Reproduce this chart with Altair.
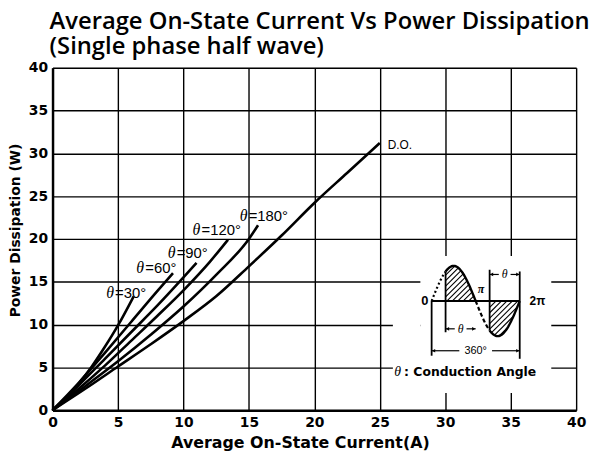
import altair as alt
import numpy as np
import pandas as pd

# ---------------- data ----------------
series_names = ["θ=30°", "θ=60°", "θ=90°", "θ=120°", "θ=180°", "D.O."]
x30 = [0, 1, 2, 3, 4, 5, 6.2]
y30 = [0, 1.4, 3.1, 5.1, 7.4, 9.9, 13.3]
x60 = [0, 2, 4, 6, 8, 9.2]
y60 = [0, 3.2, 6.7, 10.3, 13.9, 16.0]
x90 = [0, 2, 4, 6, 8, 10, 11.0]
y90 = [0, 2.9, 6.0, 9.1, 12.2, 15.5, 17.2]
x120 = [0, 2, 4, 6, 8, 10, 12, 13.4]
y120 = [0, 2.5, 5.2, 8.1, 11.0, 14.0, 17.3, 19.9]
x180 = [0, 2.5, 5, 7.5, 10, 12.5, 15, 15.7]
y180 = [0, 2.8, 5.7, 8.8, 12.1, 15.8, 20.0, 21.6]
xdo = [0, 2.5, 5, 7.5, 10, 12.5, 15, 17.5, 20, 22.5, 25]
ydo = [0, 2.5, 5.1, 7.7, 10.4, 13.3, 16.8, 20.4, 24.2, 27.7, 31.2]

label_theta = ["θ", "θ", "θ", "θ", "θ", ""]
label_rest = ["=30°", "=60°", "=90°", "=120°", "=180°", "D.O."]
label_x = [4.1, 6.4, 8.8, 10.7, 14.3, 25.6]
label_y = [13.7, 16.6, 18.4, 21.0, 22.7, 31.0]

tick_values = [0, 5, 10, 15, 20, 25, 30, 35, 40]

# white patches behind the inset diagram (grid is interrupted there)
cover_x1 = [28.1, 26.0]
cover_x2 = [38.1, 28.1]
cover_y1 = [2.0, 2.0]
cover_y2 = [18.0, 11.0]

# inset (schematic) key positions, in chart units
ins_x0, ins_x2, ins_y0, ins_amp = 28.96, 35.69, 12.75, 4.1
ins_alpha_deg = 57
PX_PER_X, PX_PER_Y = 13.225, 8.65

# ---------------- build tables ----------------
xs_all = [x30, x60, x90, x120, x180, xdo]
ys_all = [y30, y60, y90, y120, y180, ydo]
rows = []
for name, xx, yy in zip(series_names, xs_all, ys_all):
    for i, (a, b) in enumerate(zip(xx, yy)):
        rows.append({"series": name, "x": a, "y": b, "i": i})
curves = pd.DataFrame(rows)

labels = pd.DataFrame({"t": label_theta, "r": label_rest, "x": label_x, "y": label_y})
covers = pd.DataFrame({"x": cover_x1, "x2": cover_x2, "y": cover_y1, "y2": cover_y2})

alpha = np.deg2rad(ins_alpha_deg)
W = ins_x2 - ins_x0


def sine_pts(t0, t1, n=40):
    t = np.linspace(t0, t1, n)
    return ins_x0 + t / (2 * np.pi) * W, ins_y0 + ins_amp * np.sin(t)


wave_rows = []
for key, (t0, t1), style in [
    ("a", (0, alpha), "dot"),
    ("b", (alpha, np.pi), "solid"),
    ("c", (np.pi, np.pi + alpha), "dash"),
    ("d", (np.pi + alpha, 2 * np.pi), "solid"),
]:
    xx, yy = sine_pts(t0, t1)
    for j, (a, b) in enumerate(zip(xx, yy)):
        wave_rows.append({"seg": key, "style": style, "x": a, "y": b, "i": j})
wave = pd.DataFrame(wave_rows)

# hatch lines (45 deg on screen) inside the conducting lobes
Wpx = W * PX_PER_X
Apx = ins_amp * PX_PER_Y
hatch = []
u = np.linspace(0, Wpx, 2000)
t = u / Wpx * 2 * np.pi
s = Apx * np.sin(t)
for c in np.arange(-120, 120, 5.5):
    v = u + c
    pos = (t >= alpha) & (t <= np.pi) & (v >= 0) & (v <= s)
    neg = (t >= np.pi + alpha) & (t <= 2 * np.pi) & (v <= 0) & (v >= s)
    for m in (pos, neg):
        if m.sum() > 1:
            ui = u[m]
            vi = v[m]
            hatch.append({
                "x": ins_x0 + ui[0] / PX_PER_X, "x2": ins_x0 + ui[-1] / PX_PER_X,
                "y": ins_y0 + vi[0] / PX_PER_Y, "y2": ins_y0 + vi[-1] / PX_PER_Y,
            })
hatch = pd.DataFrame(hatch)

xa = ins_x0 + alpha / (2 * np.pi) * W
xpi = ins_x0 + W / 2
xpa = ins_x0 + (np.pi + alpha) / (2 * np.pi) * W
y_lo_dim, y_up_dim, y_360 = 9.5, 15.85, 6.94
m_lo = (xa + xpi) / 2
m_up = (xpa + ins_x2) / 2
m_360 = (ins_x0 + ins_x2) / 2
thick = pd.DataFrame({
    "x": [ins_x0, ins_x0, ins_x2, xa, xpa],
    "x2": [ins_x2, ins_x0, ins_x2, xa, xpa],
    "y": [ins_y0, ins_y0, 16.2, 16.2, 16.4],
    "y2": [ins_y0, 6.36, 6.0, 9.1, 9.3],
})
dims = pd.DataFrame({
    "x": [xa, m_lo + 0.45, xpa, m_up + 0.45, ins_x0, m_360 + 1.25],
    "x2": [m_lo - 0.45, xpi, m_up - 0.45, ins_x2, m_360 - 1.25, ins_x2],
    "y": [y_lo_dim, y_lo_dim, y_up_dim, y_up_dim, y_360, y_360],
    "y2": [y_lo_dim, y_lo_dim, y_up_dim, y_up_dim, y_360, y_360],
})
# small arrow heads at the ends of the dimension lines
arrows = pd.DataFrame({
    "x": [xa + 0.15, xpi - 0.15, xpa + 0.15, ins_x2 - 0.15, ins_x0 + 0.15, ins_x2 - 0.15],
    "y": [y_lo_dim, y_lo_dim, y_up_dim, y_up_dim, y_360, y_360],
    "shape": ["triangle-left", "triangle-right", "triangle-left", "triangle-right",
              "triangle-left", "triangle-right"],
})
ins_text = pd.DataFrame({
    "x": [ins_x0 - 0.25, m_lo, m_up, m_360, ins_x2 + 0.75],
    "y": [ins_y0, y_lo_dim, y_up_dim, y_360, ins_y0],
    "t": ["0", "θ", "θ", "360°", "2π"],
})

# ---------------- encodings ----------------
FONT = "Liberation Sans"
BFONT = "DejaVu Sans"
xs = alt.Scale(domain=[0, 40], nice=False, zero=False)
ys = alt.Scale(domain=[0, 40], nice=False, zero=False)
xaxis = alt.Axis(values=tick_values, title="Average On-State Current(A)", grid=True, ticks=False,
                 labelFlush=False, labelOverlap=False, labelFont=BFONT, labelFontSize=14,
                 labelFontWeight="bold", labelColor="black", labelPadding=6,
                 titleFont=BFONT, titleFontSize=16, titleFontWeight="bold", titleColor="black",
                 titlePadding=5, titleX=250, domainColor="black", domainWidth=2.5,
                 gridColor="black", gridWidth=1.4, gridOpacity=1)
yaxis = alt.Axis(values=tick_values, title="Power Dissipation (W)", grid=True, ticks=False,
                 labelFlush=False, labelOverlap=False, labelFont=BFONT, labelFontSize=14,
                 labelFontWeight="bold", labelColor="black", labelPadding=5,
                 titleFont=BFONT, titleFontSize=14, titleFontWeight="bold", titleColor="black",
                 titleX=-30, titleY=164, domainColor="black", domainWidth=2.5,
                 gridColor="black", gridWidth=1.4, gridOpacity=1)


def X(f="x"):
    return alt.X(f"{f}:Q", scale=xs, axis=xaxis)


def Y(f="y"):
    return alt.Y(f"{f}:Q", scale=ys, axis=yaxis)


cover = alt.Chart(covers).mark_rect(color="white", strokeWidth=0).encode(
    x=X(), x2="x2:Q", y=Y(), y2="y2:Q")

lines = alt.Chart(curves).mark_line(color="black", strokeWidth=2.6, interpolate="monotone").encode(
    x=X(), y=Y(), detail="series:N", order="i:Q")

lab_t = alt.Chart(labels[labels["t"] != ""]).mark_text(
    align="left", baseline="middle", font="Liberation Serif", fontStyle="italic", fontSize=16,
    color="black").encode(x=X(), y=Y(), text="t:N")
lab_r_theta = alt.Chart(labels[labels["t"] != ""]).mark_text(
    align="left", baseline="middle", font=FONT, fontSize=15, color="black", dx=9).encode(
    x=X(), y=Y(), text="r:N")
lab_do = alt.Chart(labels[labels["t"] == ""]).mark_text(
    align="left", baseline="middle", font=FONT, fontSize=12, color="black").encode(
    x=X(), y=Y(), text="r:N")

wave_solid = alt.Chart(wave[wave["style"] == "solid"]).mark_line(color="black", strokeWidth=2.4).encode(
    x=X(), y=Y(), detail="seg:N", order="i:Q")
wave_dot = alt.Chart(wave[wave["style"] == "dot"]).mark_line(color="black", strokeWidth=2.2,
                                                            strokeDash=[2, 2.5]).encode(
    x=X(), y=Y(), detail="seg:N", order="i:Q")
wave_dash = alt.Chart(wave[wave["style"] == "dash"]).mark_line(color="black", strokeWidth=2.2,
                                                              strokeDash=[4, 2.5]).encode(
    x=X(), y=Y(), detail="seg:N", order="i:Q")
hatch_l = alt.Chart(hatch).mark_rule(color="black", strokeWidth=1.1).encode(
    x=X(), x2="x2:Q", y=Y(), y2="y2:Q")
thick_l = alt.Chart(thick).mark_rule(color="black", strokeWidth=1.8).encode(
    x=X(), x2="x2:Q", y=Y(), y2="y2:Q")
dims_l = alt.Chart(dims).mark_rule(color="black", strokeWidth=1.2).encode(
    x=X(), x2="x2:Q", y=Y(), y2="y2:Q")
arrow_l = alt.Chart(arrows).mark_point(filled=True, color="black", size=14, opacity=1).encode(
    x=X(), y=Y(), shape=alt.Shape("shape:N", scale=None))

ins_t0 = alt.Chart(ins_text.iloc[[0]]).mark_text(align="right", baseline="middle", font=FONT,
                                                 fontSize=13, fontWeight="bold", color="black").encode(
    x=X(), y=Y(), text="t:N")
ins_tmid = alt.Chart(ins_text.iloc[[1, 2]]).mark_text(align="center", baseline="middle",
                                                      font="Liberation Serif", fontStyle="italic",
                                                      fontSize=12, color="black").encode(
    x=X(), y=Y(), text="t:N")
ins_t360 = alt.Chart(ins_text.iloc[[3]]).mark_text(align="center", baseline="middle", font=FONT,
                                                   fontSize=11, color="black").encode(
    x=X(), y=Y(), text="t:N")
ins_t2pi = alt.Chart(ins_text.iloc[[4]]).mark_text(align="left", baseline="middle", font=FONT,
                                                   fontSize=12, fontWeight="bold", color="black").encode(
    x=X(), y=Y(), text="t:N")
pi_df = pd.DataFrame({"x": [xpi + 0.15], "y": [14.1], "t": ["π"]})
ins_pi = alt.Chart(pi_df).mark_text(align="left", baseline="middle", font="Liberation Serif",
                                    fontStyle="italic", fontWeight="bold", fontSize=12,
                                    color="black").encode(x=X(), y=Y(), text="t:N")

cond_df = pd.DataFrame({"x": [26.1], "y": [4.4], "t": ["θ"], "r": [": Conduction Angle"]})
cond_t = alt.Chart(cond_df).mark_text(align="left", baseline="middle", font="Liberation Serif",
                                      fontStyle="italic", fontSize=14, color="black").encode(
    x=X(), y=Y(), text="t:N")
cond_r = alt.Chart(cond_df).mark_text(align="left", baseline="middle", font=BFONT, fontSize=12.5,
                                      fontWeight="bold", color="black", dx=10).encode(
    x=X(), y=Y(), text="r:N")

chart = alt.layer(
    cover, lines, lab_t, lab_r_theta, lab_do,
    hatch_l, wave_solid, wave_dot, wave_dash, thick_l, dims_l, arrow_l,
    ins_t0, ins_tmid, ins_t360, ins_t2pi, ins_pi, cond_t, cond_r,
).properties(
    width=529, height=346,
    autosize=alt.AutoSizeParams(type="none"),
    padding={"left": 45, "top": 58, "right": 14, "bottom": 44},
    title=alt.TitleParams(
        text=["Average On-State Current Vs Power Dissipation", "(Single phase half wave)"],
        anchor="start", frame="group", font="Open Sans", fontSize=24, fontWeight=600,
        color="black", offset=2, dx=-3, lineHeight=25),
).configure_view(stroke="black", strokeWidth=2).configure(background="white")

chart.save("out.html", embed_options={"renderer": "svg", "actions": False})
